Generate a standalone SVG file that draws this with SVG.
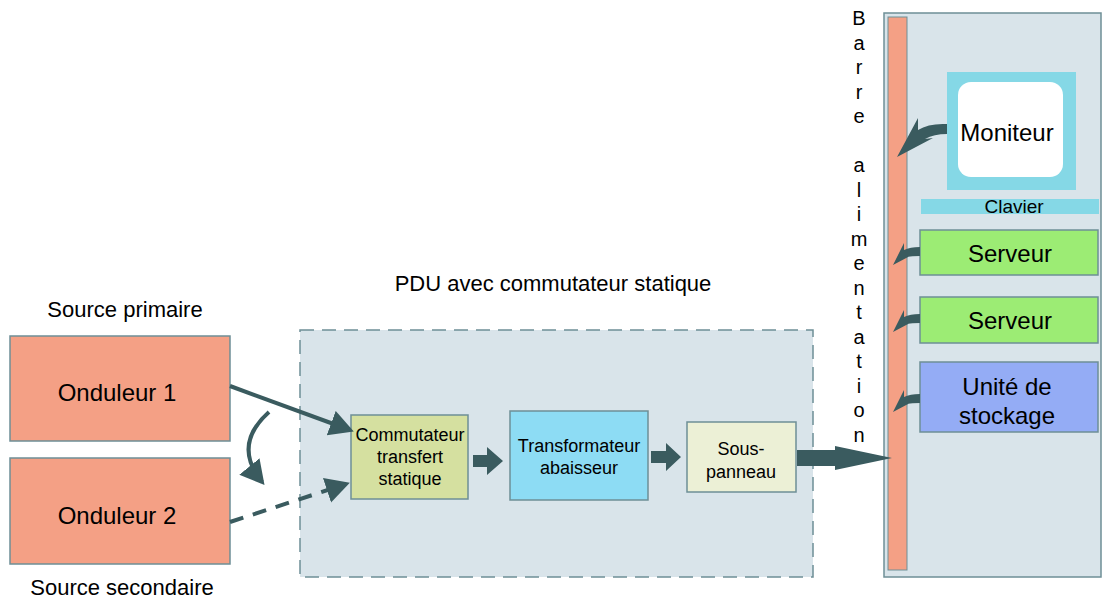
<svg xmlns="http://www.w3.org/2000/svg" width="1109" height="599" viewBox="0 0 1109 599">
<defs>
<style>
text{font-family:"Liberation Sans",Arial,sans-serif;fill:#000}
.box{stroke:#6e8f96;stroke-width:1.5}
.c{text-anchor:middle}
.arr{fill:#3a5b5f}
.ln{stroke:#3a5b5f;fill:none;stroke-width:4}
</style>
<marker id="ah" markerWidth="7" markerHeight="7" refX="5" refY="3.25" orient="auto" markerUnits="strokeWidth">
<path d="M0,0 L6,3.25 L0,6.5 Z" fill="#3a5b5f"/>
</marker>
</defs>
<rect width="1109" height="599" fill="#fff"/>

<g id="pdu">
<rect x="300" y="330" width="513" height="247" fill="#d9e4ea" stroke="#6e8f96" stroke-width="1.5" stroke-dasharray="14,8"/>
<text x="553" y="291" class="c" font-size="22">PDU avec commutateur statique</text>
</g>

<g id="onduleur1">
<text x="125" y="317" class="c" font-size="22">Source primaire</text>
<rect x="10" y="336" width="220" height="105" fill="#f4a085" class="box"/>
<text x="117" y="401" class="c" font-size="24">Onduleur 1</text>
</g>
<g id="onduleur2">
<rect x="10" y="458" width="220" height="106" fill="#f4a085" class="box"/>
<text x="117" y="524" class="c" font-size="24">Onduleur 2</text>
<text x="122" y="595" class="c" font-size="22">Source secondaire</text>
</g>

<g id="commutateur">
<rect x="351" y="415" width="117" height="84" fill="#d5e0a0" class="box"/>
<text x="410" y="441" class="c" font-size="18">Commutateur</text>
<text x="410" y="463" class="c" font-size="18">transfert</text>
<text x="410" y="485" class="c" font-size="18">statique</text>
</g>
<g id="transformateur">
<rect x="510" y="411" width="138" height="89" fill="#8ddcf4" class="box"/>
<text x="579" y="452" class="c" font-size="18">Transformateur</text>
<text x="579" y="474" class="c" font-size="18">abaisseur</text>
</g>
<g id="souspanneau">
<rect x="687" y="422" width="109" height="70" fill="#ecf0d6" class="box"/>
<text x="741" y="455" class="c" font-size="18">Sous-</text>
<text x="741" y="478" class="c" font-size="18">panneau</text>
</g>

<g id="rack">
<rect x="884" y="13" width="217" height="564" fill="#d9e4ea" stroke="#6e8f96" stroke-width="1.5"/>
</g>
<g id="barre">
<rect x="888" y="17" width="19" height="553" fill="#f4a085" stroke="#6e8f96" stroke-width="1"/>
<g font-size="20">
<text x="859" y="25" class="c">B</text>
<text x="859" y="50" class="c">a</text>
<text x="859" y="74" class="c">r</text>
<text x="859" y="99" class="c">r</text>
<text x="859" y="123" class="c">e</text>
<text x="859" y="172" class="c">a</text>
<text x="859" y="197" class="c">l</text>
<text x="859" y="221" class="c">i</text>
<text x="859" y="246" class="c">m</text>
<text x="859" y="270" class="c">e</text>
<text x="859" y="295" class="c">n</text>
<text x="859" y="319" class="c">t</text>
<text x="859" y="344" class="c">a</text>
<text x="859" y="368" class="c">t</text>
<text x="859" y="393" class="c">i</text>
<text x="859" y="417" class="c">o</text>
<text x="859" y="442" class="c">n</text>
</g>
</g>
<g id="moniteur">
<rect x="947" y="72" width="129" height="118" fill="#85d8e6"/>
<rect x="958" y="82" width="105" height="95" rx="13" fill="#fff"/>
<text x="1007" y="141" class="c" font-size="24">Moniteur</text>
</g>
<g id="clavier">
<rect x="921" y="199" width="178" height="15" fill="#85d8e6"/>
<text x="1014" y="213" class="c" font-size="19">Clavier</text>
</g>
<g id="serveur1">
<rect x="920" y="230" width="178" height="45" fill="#9cec74" class="box"/>
<text x="1010" y="262" class="c" font-size="24">Serveur</text>
</g>
<g id="serveur2">
<rect x="920" y="297" width="178" height="46" fill="#9cec74" class="box"/>
<text x="1010" y="329" class="c" font-size="24">Serveur</text>
</g>
<g id="stockage">
<rect x="920" y="362" width="178" height="70" fill="#94acf5" class="box"/>
<text x="1007" y="395" class="c" font-size="24">Unité de</text>
<text x="1007" y="424" class="c" font-size="24">stockage</text>
</g>

<g id="connectors">
<line x1="230" y1="386" x2="350" y2="430" class="ln" marker-end="url(#ah)"/>
<line x1="230" y1="522" x2="346" y2="484" class="ln" stroke-dasharray="14,10" marker-end="url(#ah)"/>
<path d="M269,412 Q232,445 262,482" class="ln" marker-end="url(#ah)"/>
<path class="arr" d="M473,455 H487 V447 L503,461 L487,475 V467 H473 Z"/>
<path class="arr" d="M651,451 H666 V443 L681,457 L666,471 V463 H651 Z"/>
<path class="arr" d="M797,450 H835 V446 L892,458 L835,470 V466 H797 Z"/>
<path class="arr" d="M947,124 Q929,123 918,130 L918,118 L897,157 L933,138 L925,139 Q934,134 947,134 Z"/>
<path class="arr" d="M920,247 Q910,247 904,250 L904,243 L893,265 L910,256 L906,257 Q912,256 920,256 Z"/>
<path class="arr" d="M920,314 Q910,314 904,317 L904,310 L893,332 L910,323 L906,324 Q912,323 920,323 Z"/>
<path class="arr" d="M920,394 Q910,394 904,397 L904,390 L893,412 L910,403 L906,404 Q912,403 920,403 Z"/>
</g>
</svg>
